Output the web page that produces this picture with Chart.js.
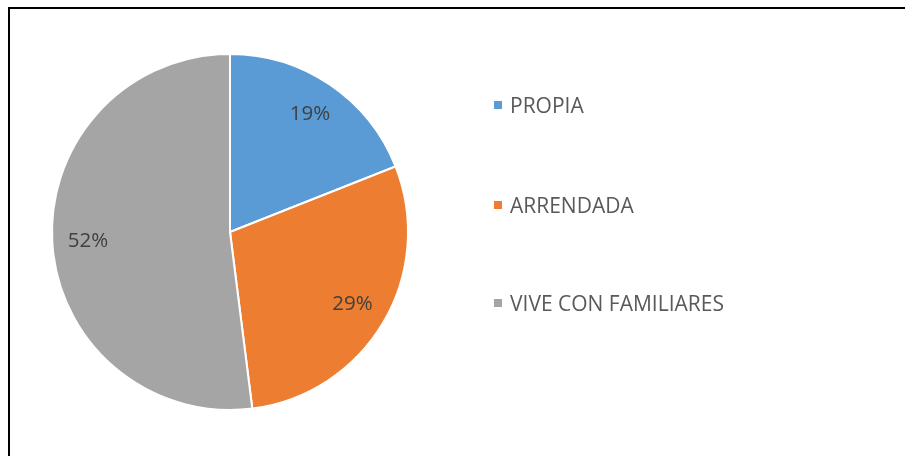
<!DOCTYPE html>
<html lang="es">
<head>
    <meta charset="UTF-8">
    <title>Tenencia de vivienda</title>
    <script src="https://cdn.jsdelivr.net/npm/chart.js@4.4.0/dist/chart.umd.min.js"></script>
    <style>
        body {
            margin: 0;
            background: #fff;
            font-family: "Open Sans", "Liberation Sans", sans-serif;
        }
        #frame {
            position: absolute;
            left: 8px;
            top: 7px;
            width: 1000px;
            height: 600px;
            border: 2px solid #000;
        }
        #wrap {
            position: absolute;
            left: 0;
            top: 0;
            width: 905px;
            height: 456px;
        }
        #legend {
            position: absolute;
            left: 494px;
            top: 0;
        }
        .item {
            position: absolute;
            white-space: nowrap;
            font-size: 21px;
            color: #595959;
            line-height: 24px;
        }
        .item span.box {
            position: absolute;
            left: 0;
            top: 8px;
            width: 8px;
            height: 8px;
        }
        .item span.txt {
            position: absolute;
            left: 16px;
            top: 0;
        }
    </style>
</head>
<body>
    <div id="frame"></div>
    <div id="wrap">
        <canvas id="pieChart" width="905" height="456"></canvas>
    </div>
    <div id="legend"></div>

    <script>
        // datos
        var categorias = ['PROPIA', 'ARRENDADA', 'VIVE CON FAMILIARES'];
        var porcentajes = [19, 29, 52];
        var colores = ['#5B9BD5', '#ED7D31', '#A5A5A5'];

        // etiquetas de porcentaje dentro de cada porción
        var etiquetasPlugin = {
            id: 'etiquetas',
            afterDatasetsDraw: function(chart) {
                var ctx = chart.ctx;
                var meta = chart.getDatasetMeta(0);
                ctx.save();
                ctx.font = '20.5px "Open Sans", "Liberation Sans", sans-serif';
                ctx.fillStyle = '#404040';
                ctx.textAlign = 'center';
                ctx.textBaseline = 'middle';
                meta.data.forEach(function(arc, i) {
                    var mid = (arc.startAngle + arc.endAngle) / 2;
                    var r = arc.outerRadius * 0.8;
                    var x = arc.x + Math.cos(mid) * r;
                    var y = arc.y + Math.sin(mid) * r;
                    ctx.fillText(porcentajes[i] + '%', x, y);
                });
                ctx.restore();
            }
        };

        var ctx = document.getElementById('pieChart').getContext('2d');
        var pieChart = new Chart(ctx, {
            type: 'pie',
            data: {
                labels: categorias,
                datasets: [{
                    data: porcentajes,
                    backgroundColor: colores,
                    borderColor: '#ffffff',
                    borderWidth: 2
                }]
            },
            options: {
                responsive: false,
                animation: false,
                layout: {
                    padding: { left: 51, top: 53, right: 496, bottom: 45 }
                },
                plugins: {
                    legend: { display: false },
                    tooltip: { enabled: false }
                }
            },
            plugins: [etiquetasPlugin]
        });

        // leyenda
        var tops = [93, 193, 291];
        var legend = document.getElementById('legend');
        categorias.forEach(function(nombre, i) {
            var item = document.createElement('div');
            item.className = 'item';
            item.style.top = tops[i] + 'px';
            item.innerHTML = '<span class="box" style="background:' + colores[i] + '"></span>' +
                '<span class="txt">' + nombre + '</span>';
            legend.appendChild(item);
        });
    </script>
</body>
</html>
